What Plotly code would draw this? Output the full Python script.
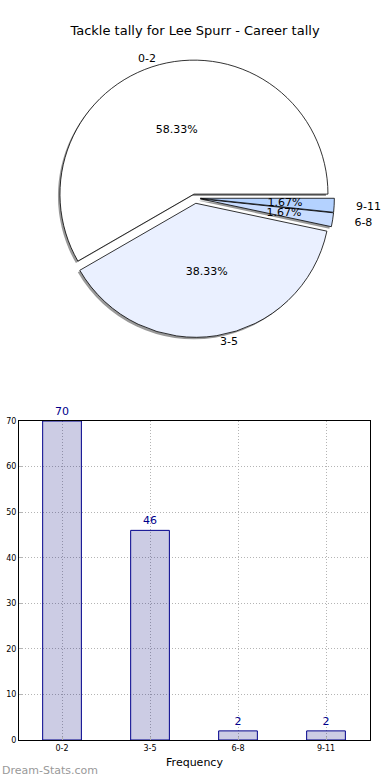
import plotly.graph_objects as go

categories = ["0-2", "3-5", "6-8", "9-11"]
counts = [70, 46, 2, 2]
pie_colors = ["#ffffff", "#eaf0ff", "#c8dcff", "#b4d2ff"]
pulls = [0.03, 0.04, 0.04, 0.04]
big_pct = ["%{percent:.2%}", "%{percent:.2%}", "", ""]
small_pct = ["", "", "%{percent:.2%}", "%{percent:.2%}"]
big_lbl = ["%{label}", "%{label}", "", ""]
small_lbl = ["", "", "%{label}", "%{label}"]
title_text = "Tackle tally for Lee Spurr - Career tally"
watermark = "Dream-Stats.com"

W, H = 390, 780


def px(x):
    return x / W


def py(y):
    return 1 - y / H


cx, cy = 195, 198
rot = 240


def dom(r, dx=0, dy=0):
    half = r * 1.04
    return dict(x=[px(cx - half + dx), px(cx + half + dx)],
                y=[py(cy + half + dy), py(cy - half + dy)])


common = dict(labels=categories, values=counts, sort=False, direction="counterclockwise",
              rotation=rot, pull=pulls, showlegend=False, automargin=False)

fig = go.Figure()
fig.add_trace(go.Pie(**common, domain=dom(134, -2, 2),
                     marker=dict(colors=["#999999"] * 4, line=dict(width=0)),
                     textinfo="none", hoverinfo="skip"))
fig.add_trace(go.Pie(**common, domain=dom(134),
                     marker=dict(colors=pie_colors, line=dict(color="#000000", width=0.8)),
                     texttemplate=big_pct, textposition="inside", insidetextorientation="horizontal",
                     textfont=dict(family="DejaVu Sans", size=11, color="#000000")))
fig.add_trace(go.Pie(**common, domain=dom(91),
                     marker=dict(colors=["rgba(0,0,0,0)"] * 4, line=dict(width=0)),
                     texttemplate=small_pct, textposition="inside", insidetextorientation="horizontal",
                     textfont=dict(family="DejaVu Sans", size=11, color="#000000"), hoverinfo="skip"))
fig.add_trace(go.Pie(**common, domain=dom(134),
                     marker=dict(colors=["rgba(0,0,0,0)"] * 4, line=dict(width=0)),
                     texttemplate=big_lbl, textposition="outside",
                     textfont=dict(family="DejaVu Sans", size=11, color="#000000"), hoverinfo="skip"))
fig.add_trace(go.Pie(**common, domain=dom(152),
                     marker=dict(colors=["rgba(0,0,0,0)"] * 4, line=dict(width=0)),
                     texttemplate=small_lbl, textposition="outside",
                     textfont=dict(family="DejaVu Sans", size=11, color="#000000"), hoverinfo="skip"))

fig.add_trace(go.Bar(
    x=categories, y=counts, width=0.44,
    marker=dict(color="rgba(0,0,120,0.2)", line=dict(color="#00008b", width=1)),
    text=[str(v) for v in counts], textposition="outside", cliponaxis=False,
    textfont=dict(family="DejaVu Sans", size=11, color="#00008b"),
    showlegend=False, xaxis="x", yaxis="y",
))

grid = dict(showgrid=True, gridcolor="#b4b4b4", griddash="1px,2px", gridwidth=1)
fig.update_layout(
    template="none",
    width=W, height=H, autosize=False, showlegend=False,
    margin=dict(l=0, r=0, t=0, b=0, pad=0, autoexpand=False),
    paper_bgcolor="white", plot_bgcolor="white",
    font=dict(family="DejaVu Sans", color="#000000"),
    uniformtext=dict(minsize=11, mode="show"),
    title=dict(text=title_text, x=px(195), xanchor="center", y=py(30), yanchor="middle",
               font=dict(family="DejaVu Sans", size=13, color="#000000")),
    xaxis=dict(domain=[px(19), px(370)], anchor="y", type="category", automargin=False,
               range=[-0.489, 3.5], showline=True, linecolor="black", linewidth=1, mirror=True,
               ticks="inside", ticklen=3, tickcolor="#b4b4b4",
               tickfont=dict(family="DejaVu Sans", size=8, color="#000000"),
               title=dict(text="Frequency", font=dict(family="DejaVu Sans", size=11), standoff=6),
               zeroline=False, **grid),
    yaxis=dict(domain=[py(740), py(421)], anchor="x", automargin=False,
               range=[0, 70], dtick=10, showline=True, linecolor="black", linewidth=1, mirror=True,
               ticks="inside", ticklen=3, tickcolor="#b4b4b4",
               tickfont=dict(family="DejaVu Sans", size=8, color="#000000"),
               zeroline=False, **grid),
    annotations=[dict(text=watermark, x=px(0), y=py(770), xref="paper", yref="paper",
                      xanchor="left", yanchor="middle", showarrow=False,
                      font=dict(family="DejaVu Sans", size=11, color="#999999"))],
)

fig.write_html(
    "out.html",
    config={"displayModeBar": False, "responsive": False},
    post_script="document.documentElement.style.overflow='hidden';"
                "document.body.style.margin='0';document.body.style.overflow='hidden';",
)
